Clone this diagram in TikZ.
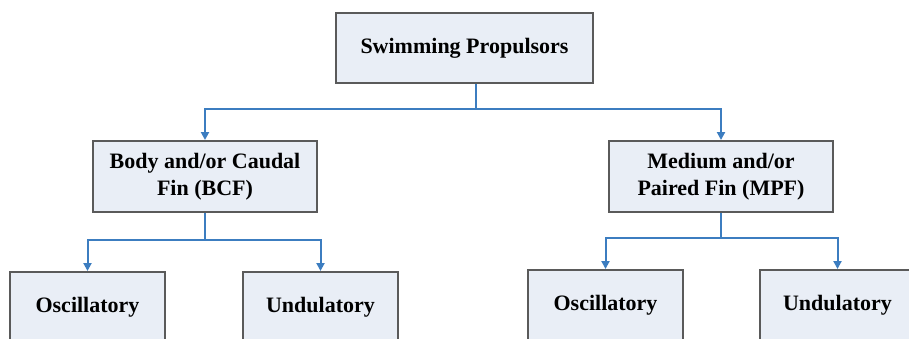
\documentclass[tikz,border=0pt]{standalone}
\usepackage{fontspec}
\setmainfont{Liberation Serif}
\usetikzlibrary{arrows.meta}
\definecolor{boxfill}{HTML}{E9EEF6}
\definecolor{boxline}{HTML}{5A5A5A}
\definecolor{linkblue}{HTML}{3C7DC0}
\begin{document}
\begin{tikzpicture}[x=1pt,y=1pt,
  box/.style={draw=boxline, line width=2pt, fill=boxfill, inner sep=0pt,
    align=center, font=\fontsize{22}{27}\selectfont\bfseries},
  link/.style={draw=linkblue, line width=2pt},
  linkarrow/.style={link, -{Triangle[length=8pt,width=8pt]}}]
\useasboundingbox (0,0) rectangle (909,-338);
\clip (0,0) rectangle (909,-338);
\fill[white] (0,0) rectangle (909,-338);

% root
\node[box, minimum width=257pt, minimum height=70pt] (root) at (464.5,-48) {Swimming Propulsors};

% second level
\node[box, minimum width=224pt, minimum height=71pt] (bcf) at (205,-176.5) {Body and/or Caudal\\Fin (BCF)};
\node[box, minimum width=224pt, minimum height=71pt] (mpf) at (721,-176.5) {Medium and/or\\Paired Fin (MPF)};

% third level
\node[box, minimum width=155pt, minimum height=70pt] (osc1) at (87.5,-307) {Oscillatory};
\node[box, minimum width=155pt, minimum height=70pt] (und1) at (320.5,-307) {Undulatory};
\node[box, minimum width=155pt, minimum height=70pt] (osc2) at (605.5,-305) {Oscillatory};
\node[box, minimum width=155pt, minimum height=70pt] (und2) at (837.5,-305) {Undulatory};

% connectors
\draw[linkarrow] ([xshift=11.5pt]root.south) -- ++(0,-25) -| (bcf.north);
\draw[linkarrow] ([xshift=11.5pt]root.south) -- ++(0,-25) -| (mpf.north);

\draw[linkarrow] (bcf.south) -- ++(0,-26.5) -| (osc1.north);
\draw[linkarrow] (bcf.south) -- ++(0,-26.5) -| (und1.north);

\draw[linkarrow] (mpf.south) -- ++(0,-24.5) -| (osc2.north);
\draw[linkarrow] (mpf.south) -- ++(0,-24.5) -| (und2.north);
\end{tikzpicture}
\end{document}
